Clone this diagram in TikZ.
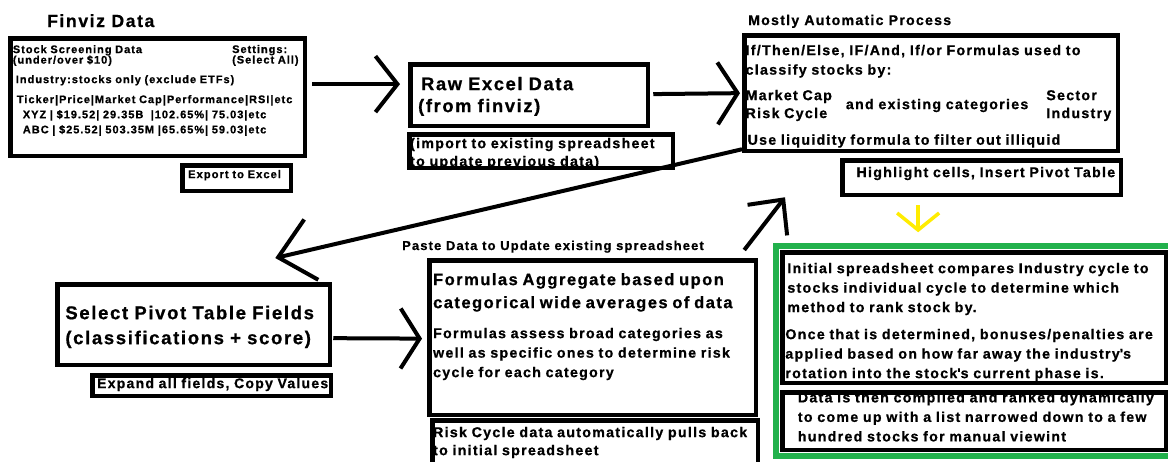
\documentclass[tikz,border=0pt]{standalone}
\usepackage{fontspec}
\setmainfont{Liberation Sans}[LetterSpace=9, BoldFeatures={FakeBold=0.8}]
\usetikzlibrary{arrows.meta,positioning,fit}
\definecolor{paintgreen}{RGB}{34,177,76}
\definecolor{paintyellow}{RGB}{255,236,0}
\tikzset{
  stepbox/.style={rectangle, draw=black, line width=4.75pt, fill=white, anchor=north west,
    align=left, font=\fontsize{14.2}{19.5}\selectfont\bfseries},
  smallbox/.style={stepbox, font=\fontsize{11}{10.5}\selectfont\bfseries},
  headbox/.style={stepbox, font=\fontsize{18.3}{22}\selectfont\bfseries},
  looselabel/.style={anchor=base west, inner sep=0pt, font=\fontsize{14.1}{19.5}\selectfont\bfseries},
  rankframe/.style={rectangle, draw=paintgreen, line width=6pt, inner sep=3.75pt},
  flowarrow/.style={draw=black, line width=4pt},
}

\begin{document}
\begin{tikzpicture}[x=1pt, y=-1pt]
  \fill[white] (0,0) rectangle (1168,461);
  \useasboundingbox (0,0) rectangle (1168,461);
  \clip (0,0) rectangle (1168,461);

  % Finviz export (top left)
  \node[anchor=base west, inner sep=0pt, font=\fontsize{17.6}{20}\selectfont\bfseries]
    (finvizTitle) at (47,27) {Finviz Data};
  \node[smallbox, text width=289.5pt, inner xsep=2.5pt, inner ysep=6.75pt,
    text height=8pt, text depth=96pt] (finviz) at (8,36)
    {Stock Screening Data\\(under/over \$10)\\[9pt]
     \hspace*{3pt}Industry:stocks only (exclude ETFs)\\[9.5pt]
     \hspace*{4pt}Ticker|Price|Market Cap|Performance|RSI|etc\\[3.5pt]
     \hspace*{10pt}XYZ | \$19.52| 29.35B~ |102.65\%| 75.03|etc\\[3.5pt]
     \hspace*{10pt}ABC | \$25.52| 503.35M |65.65\%| 59.03|etc};
  \node[anchor=base west, inner sep=0pt, text width=70pt, align=left,
    font=\fontsize{11}{10.5}\selectfont\bfseries] (settings) at (232,53)
    {Settings:\\(Select All)};
  \node[smallbox, font=\fontsize{11.2}{10.5}\selectfont\bfseries, text width=97pt,
    inner xsep=5.75pt, inner ysep=4.75pt, text height=8pt, text depth=8pt] (export) at (180,163)
    {Export to Excel};

  % Raw data and import
  \node[headbox, text width=216pt, inner xsep=10.75pt, inner ysep=13.25pt,
    text height=12.5pt, text depth=22.5pt] (raw) at (408,62)
    {Raw Excel Data\\\hspace*{-3pt}(from finviz)};
  \node[stepbox, font=\fontsize{14.2}{18}\selectfont\bfseries, text width=262pt,
    inner xsep=0.75pt, inner ysep=3.75pt, text height=10pt, text depth=16pt] (import) at (407,132)
    {(import to existing spreadsheet\\to update previous data)};

  % Classification step (top right)
  \node[looselabel] (mostlyTitle) at (748,25) {Mostly Automatic Process};
  \node[stepbox, text width=371pt, inner xsep=1.25pt, inner ysep=9.75pt,
    text height=10pt, text depth=86pt] (mostly) at (742,33)
    {\renewcommand{\arraystretch}{0.92}%
     If/Then/Else, IF/And, If/or Formulas used to\\
     classify stocks by:\\[9pt]
     \begin{tabular}{@{}l@{}}Market Cap\\Risk Cycle\end{tabular}\hspace{14pt}and existing categories\hspace{18pt}\begin{tabular}{@{}l@{}}Sector\\Industry\end{tabular}\\[10pt]
     \hspace*{2pt}Use liquidity formula to filter out illiquid};
  \node[stepbox, align=right, text width=267pt, inner xsep=5.75pt, inner ysep=6.75pt,
    text height=10pt, text depth=11pt] (highlight) at (840,158)
    {Highlight cells, Insert Pivot Table};

  % Pivot table (bottom left)
  \node[headbox, font=\fontsize{18.5}{25}\selectfont\bfseries, text width=256.5pt,
    inner xsep=8pt, inner ysep=22pt, text height=12.8pt, text depth=23.8pt] (pivot) at (55,282)
    {Select Pivot Table Fields\\(classifications + score)};
  \node[stepbox, font=\fontsize{14}{18}\selectfont\bfseries, text width=238.5pt,
    inner xsep=0pt, inner ysep=2.75pt, text height=10pt, text depth=5pt] (expand) at (90,373)
    {\hspace*{4.75pt}Expand all fields, Copy Values};

  % Aggregation (bottom middle)
  \node[looselabel, font=\fontsize{12.9}{16}\selectfont\bfseries] (pasteLabel) at (402,250)
    {Paste Data to Update existing spreadsheet};
  \node[stepbox, text width=319pt, inner xsep=3.75pt, inner ysep=13.25pt,
    text height=11.5pt, text depth=116.5pt] (formulas) at (427,258)
    {{\fontsize{16.5}{23}\selectfont Formulas Aggregate based upon}\\[3.5pt]
     {\fontsize{16.5}{23}\selectfont categorical wide averages of data}\\[10.5pt]
     Formulas assess broad categories as\\
     well as specific ones to determine risk\\
     cycle for each category};
  \node[stepbox, font=\fontsize{14.2}{18}\selectfont\bfseries, text width=324pt,
    inner xsep=0.75pt, inner ysep=6.75pt, text height=10pt, text depth=26pt] (risk) at (430,418)
    {Risk Cycle data automatically pulls back\\to initial spreadsheet};

  % Ranking (bottom right)
  \node[stepbox, text width=380.5pt, inner xsep=1.5pt, inner ysep=10.75pt,
    text height=10pt, text depth=99pt] (initial) at (780,250)
    {\hspace*{3.5pt}Initial spreadsheet compares Industry cycle to\\
     \hspace*{3.5pt}stocks individual cycle to determine which\\
     \hspace*{3.5pt}method to rank stock by.\\[7.5pt]
     \hspace*{1.5pt}Once that is determined, bonuses/penalties are\\
     \hspace*{1.5pt}applied based on how far away the industry\textquotesingle s\\
     \hspace*{1.5pt}rotation into the stock\textquotesingle s current phase is.};
  \node[stepbox, text width=380.5pt, inner xsep=1.5pt, inner ysep=0pt,
    text height=10pt, text depth=47.5pt] (data) at (780,390)
    {\hspace*{14pt}Data is then compiled and ranked dynamically\\
     \hspace*{14pt}to come up with a list narrowed down to a few\\
     \hspace*{14pt}hundred stocks for manual viewint};
  \node[rankframe, fit=(initial)(data)] (ranking) {};

  % Free ends of the hand-drawn arrows
  \coordinate (pivotIn) at ([shift={(-57,-24)}]pivot.north east);
  \coordinate (highlightIn) at ([shift={(-55,0)}]highlight.south west);
  \coordinate (yellowTip) at ([shift={(-63.5,35)}]highlight.south);

  % Arrows
  \draw[flowarrow, -{Straight Barb[length=22pt,width=56pt]}, shorten <=5pt, shorten >=8pt]
    ([shift={(0,-13)}]finviz.east) -- ([shift={(0,-11)}]raw.west);
  \draw[flowarrow, -{Straight Barb[length=20pt,width=62pt]}, shorten <=3pt, shorten >=2pt]
    ([shift={(0,-1)}]raw.east) -- (mostly.west);
  \draw[flowarrow, -{Straight Barb[length=34pt,width=62pt]}]
    ([shift={(0,-4)}]mostly.south west) -- (pivotIn);
  \draw[flowarrow, -{Straight Barb[length=19pt,width=60pt]}, shorten <=1pt, shorten >=5pt]
    ([shift={(0,13.5)}]pivot.east) -- ([shift={(0,1)}]formulas.west);
  \draw[flowarrow, -{Straight Barb[length=26pt,width=50pt]}]
    ([shift={(-14,-8)}]formulas.north east) -- (highlightIn);
  \draw[flowarrow, draw=paintyellow, line width=3.5pt, -{Straight Barb[length=17pt,width=42pt]}]
    ([shift={(-63.5,8)}]highlight.south) -- (yellowTip);

\end{tikzpicture}
\end{document}
